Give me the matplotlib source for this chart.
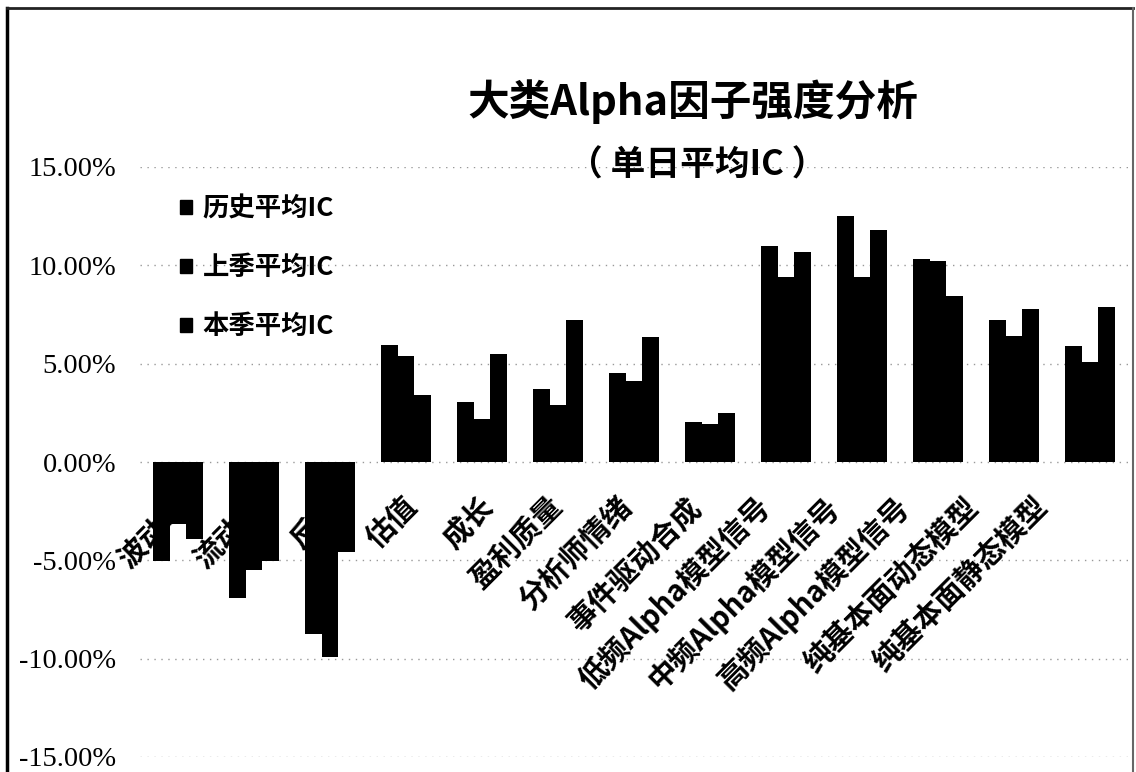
import numpy as np
import matplotlib.pyplot as plt
from matplotlib.patches import Rectangle
from matplotlib.lines import Line2D

plt.rcParams['font.family'] = ['Noto Sans CJK SC', 'DejaVu Sans']

# 大类因子 单日平均IC (%)
categories = ['波动率', '流动性', '反转', '估值', '成长', '盈利质量', '分析师情绪',
              '事件驱动合成', '低频Alpha模型信号', '中频Alpha模型信号', '高频Alpha模型信号',
              '纯基本面动态模型', '纯基本面静态模型']
hist_ic = [-5.05, -6.9, -8.75, 5.95, 3.05, 3.7, 4.55, 2.05, 11.0, 12.5, 10.3, 7.2, 5.9]
last_q_ic = [-3.15, -5.5, -9.9, 5.4, 2.2, 2.9, 4.1, 1.95, 9.4, 9.4, 10.2, 6.4, 5.1]
this_q_ic = [-3.9, -5.05, -4.6, 3.4, 5.5, 7.2, 6.35, 2.5, 10.7, 11.8, 8.45, 7.8, 7.9]
series_names = ['历史平均IC', '上季平均IC', '本季平均IC']
yticks = [-15, -10, -5, 0, 5, 10, 15]

W, H = 1136, 772
fig = plt.figure(figsize=(W / 100, H / 100), dpi=100)
ax = fig.add_axes([140 / W, 1 - 757 / H, 988 / W, 590 / H])

x = np.arange(len(categories))
w = 0.215
for k, vals in enumerate([hist_ic, last_q_ic, this_q_ic]):
    ax.bar(x + (k - 1) * w, vals, w, color='black', zorder=3, label=series_names[k])

ax.set_xlim(-0.5, len(categories) - 0.5)
ax.set_ylim(-15, 15)
ax.set_yticks(yticks)
ax.set_yticklabels([f'{v:.2f}%' for v in yticks], family='Liberation Serif', fontsize=20.5)
ax.set_xticks([])
ax.tick_params(axis='y', length=0, pad=17)
ax.set_axisbelow(True)
ax.yaxis.grid(True, linestyle=(0, (1, 4)), color='#999999', lw=1)
for s in ax.spines.values():
    s.set_visible(False)

# category names, rotated, drawn under the bars
label_x = x - 0.09 * np.clip(x - 4, 0, None) - 0.05
for lx, name in zip(label_x, categories):
    ax.text(lx, -1.5, name, rotation=45, rotation_mode='anchor', ha='right', va='top',
            fontsize=21, fontweight='bold', zorder=2)

handles = [Rectangle((0, 0), 1, 1, color='black') for _ in series_names]
ax.legend(handles, series_names, loc='upper left', bbox_to_anchor=(180 / W, 1 - 195 / H),
          bbox_transform=fig.transFigure, frameon=False,
          handlelength=0.45, handleheight=0.45, handletextpad=0.4,
          labelspacing=1.22, borderpad=0, borderaxespad=0,
          prop={'weight': 'bold', 'size': 19})

fig.text(693 / W, 1 - 102 / H, '大类Alpha因子强度分析', ha='center', va='center',
         fontsize=30, fontweight='bold')
fig.text(697 / W, 1 - 165 / H, '（ 单日平均IC ）', ha='center', va='center',
         fontsize=25, fontweight='bold')

# outer frame
fig.add_artist(Line2D([7 / W, 7 / W], [0, 1 - 8 / H], color='black', lw=2.5))
fig.add_artist(Line2D([7 / W, 1133 / W], [1 - 8 / H, 1 - 8 / H], color='#222222', lw=2))
fig.add_artist(Line2D([1133 / W, 1133 / W], [0, 1 - 8 / H], color='#666666', lw=1.5))

fig.savefig('out.png', dpi=100)
